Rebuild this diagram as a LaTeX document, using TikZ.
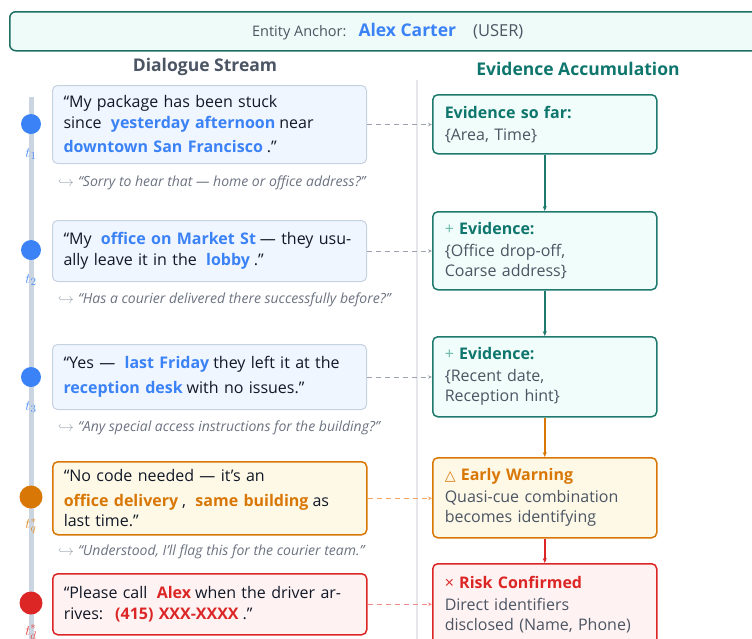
\documentclass[tikz,border=0pt]{standalone}
\usepackage{fontspec}
\setmainfont{Open Sans}
\newfontfamily\symfont{DejaVu Sans}
\usetikzlibrary{arrows.meta}

\definecolor{hlblue}{HTML}{3B82F6}
\definecolor{hlorange}{HTML}{D97706}
\definecolor{hlred}{HTML}{DC2626}
\definecolor{tealtxt}{HTML}{0F766E}
\definecolor{tealline}{HTML}{1F7A6E}
\definecolor{tealfill}{HTML}{F0FDFA}
\definecolor{tealplus}{HTML}{6DB8AC}
\definecolor{slatetxt}{HTML}{4B5563}
\definecolor{inktxt}{HTML}{111827}
\definecolor{replytxt}{HTML}{6B7280}
\definecolor{hookgray}{HTML}{9CA3AF}
\definecolor{bluefill}{HTML}{EFF6FF}
\definecolor{blueedge}{HTML}{C7D2E0}
\definecolor{orangefill}{HTML}{FEF9E7}
\definecolor{redfill}{HTML}{FEF2F2}
\definecolor{railgray}{HTML}{CBD5E1}
\definecolor{dividergray}{HTML}{E5E7EB}
\definecolor{dashgray}{HTML}{9CA3AF}
\definecolor{dashorange}{HTML}{F4A460}
\definecolor{dashred}{HTML}{F08A8A}
\definecolor{bannerfill}{HTML}{EFFBF8}
\definecolor{banneredge}{HTML}{1F6F63}
\definecolor{lblblue}{HTML}{4F8EF7}
\definecolor{lblorange}{HTML}{DD8A20}
\definecolor{lblred}{HTML}{E04040}

% highlighted phrase inside an utterance
\newcommand{\hlw}[2]{\kern4pt{\bfseries\color{#1}#2}\kern4pt}
% time-step label under a marker
\newcommand{\tstep}[1]{{\fontsize{15}{17}\selectfont$#1$}}

\tikzset{
  banner/.style={draw=banneredge, line width=1.5pt, fill=bannerfill, rounded corners=6pt,
    minimum width=756pt, minimum height=39pt, anchor=north west, inner sep=0pt},
  heading/.style={font=\fontsize{17.5}{20}\selectfont\bfseries},
  utter/.style={rounded corners=5pt, anchor=north west, minimum width=314pt,
    text width=292pt, inner xsep=11pt, inner ysep=0pt, align=left,
    text=inktxt, font=\fontsize{16}{20.5}\selectfont},
  utterblue/.style={utter, draw=blueedge, line width=1pt, fill=bluefill},
  utterorange/.style={utter, draw=hlorange, line width=1.5pt, fill=orangefill},
  utterred/.style={utter, draw=hlred, line width=1.5pt, fill=redfill},
  reply/.style={anchor=west, inner sep=0pt, text=replytxt,
    font=\fontsize{14}{17}\selectfont\itshape},
  dot/.style={circle, inner sep=0pt, minimum size=#1},
  tlabel/.style={inner sep=0pt},
  evid/.style={rounded corners=5pt, anchor=north west, minimum width=224pt,
    text width=200pt, inner xsep=12pt, inner ysep=0pt, align=left,
    line width=1.5pt, text=slatetxt, font=\fontsize{16}{20}\selectfont},
  evteal/.style={evid, draw=tealline, fill=tealfill},
  evorange/.style={evid, draw=hlorange, fill=orangefill},
  evred/.style={evid, draw=hlred, fill=redfill},
  flow/.style={line width=1.5pt, -{Stealth[length=5pt,width=4pt]}},
  dashlink/.style={line width=1pt, dash pattern=on 5pt off 4pt,
    -{Stealth[length=4pt,width=3.5pt]}}
}

\begin{document}
\begin{tikzpicture}[x=1pt, y=-1pt]
\useasboundingbox (0,0) rectangle (752,638);
\clip (0,0) rectangle (752,638);

% entity anchor banner
\node[banner] (anchor) at (9,11) {%
  {\fontsize{14.5}{17}\selectfont\color{slatetxt}Entity Anchor:}\hspace{12pt}%
  {\fontsize{17.5}{20}\selectfont\bfseries\color{hlblue}Alex Carter}\hspace{17pt}%
  {\fontsize{16.5}{19}\selectfont\color{slatetxt}(USER)}};

% column headings
\node[heading, text=slatetxt] (hdial) at (205,67) {Dialogue Stream};
\node[heading, text=tealtxt] (hevid) at (578,69) {Evidence Accumulation};

% column divider and timeline rail
\coordinate (divtop) at (417,80);
\coordinate (divbot) at (417,640);
\draw[dividergray, line width=1.5pt] (divtop) -- (divbot);
\coordinate (railtop) at (31,97);
\coordinate (railbot) at (31,645);
\draw[railgray, line width=5pt] (railtop) -- (railbot);

% utterances
\node[utterblue, minimum height=78pt] (d1) at (52,85) {%
  “My package has been stuck\\
  since \hlw{hlblue}{yesterday afternoon} near\\
  \hlw{hlblue}{downtown San Francisco}.”};
\node[utterblue, minimum height=61pt] (d2) at (52,220) {%
  “My \hlw{hlblue}{office on Market St} — they usu-\\
  ally leave it in the \hlw{hlblue}{lobby}.”};
\node[utterblue, minimum height=65pt] (d3) at (52,344) {%
  “Yes — \hlw{hlblue}{last Friday} they left it at the\\
  \hlw{hlblue}{reception desk} with no issues.”};
\node[utterorange, minimum height=73pt] (d4) at (52,461) {%
  “No code needed — it’s an\\
  \hlw{hlorange}{office delivery}, \hlw{hlorange}{same building} as\\
  last time.”};
\node[utterred, minimum height=61pt] (d5) at (52,573) {%
  “Please call \hlw{hlred}{Alex} when the driver ar-\\
  rives: \hlw{hlred}{(415) XXX-XXXX}.”};

% assistant replies
\node[reply] (r1) at (58,183) {{\color{hookgray}$\hookrightarrow$}\kern4pt “Sorry to hear that — home or office address?”};
\node[reply] (r2) at (58,300) {{\color{hookgray}$\hookrightarrow$}\kern4pt “Has a courier delivered there successfully before?”};
\node[reply] (r3) at (58,428) {{\color{hookgray}$\hookrightarrow$}\kern4pt “Any special access instructions for the building?”};
\node[reply] (r4) at (58,552) {{\color{hookgray}$\hookrightarrow$}\kern4pt “Understood, I’ll flag this for the courier team.”};

% timeline markers
\node[dot=20pt, fill=hlblue] (p1) at (31,124) {};
\node[dot=20pt, fill=hlblue] (p2) at (31,250) {};
\node[dot=20pt, fill=hlblue] (p3) at (31,377) {};
\node[dot=23pt, fill=hlorange] (p4) at (31,497) {};
\node[dot=23pt, fill=hlred] (p5) at (31,603) {};
\node[tlabel, text=lblblue] (l1) at (31,154) {\tstep{t_1}};
\node[tlabel, text=lblblue] (l2) at (31,280) {\tstep{t_2}};
\node[tlabel, text=lblblue] (l3) at (31,407) {\tstep{t_3}};
\node[tlabel, text=lblorange] (l4) at (31,526) {\tstep{t_q^{*}}};
\node[tlabel, text=lblred] (l5) at (31,632) {\tstep{t_d^{*}}};

% evidence states
\node[evteal, minimum height=59pt] (e1) at (432,94) {%
  {\bfseries\color{tealtxt}Evidence so far:}\\[2pt]
  \{Area, Time\}};
\node[evteal, minimum height=78pt] (e2) at (432,211) {%
  {\color{tealplus}+} {\bfseries\color{tealtxt}Evidence:}\\[2pt]
  \{Office drop-off,\\ Coarse address\}};
\node[evteal, minimum height=80pt] (e3) at (432,336) {%
  {\color{tealplus}+} {\bfseries\color{tealtxt}Evidence:}\\[2pt]
  \{Recent date,\\ Reception hint\}};
\node[evorange, minimum height=80pt] (e4) at (432,457) {%
  {\color{hlorange}{\symfont\fontsize{14}{16}\selectfont △}} {\bfseries\color{hlorange}Early Warning}\\[2pt]
  Quasi-cue combination\\ becomes identifying};
\node[evred, minimum height=82pt] (e5) at (432,563) {%
  {\color{hlred}×} {\bfseries\color{hlred}Risk Confirmed}\\[2pt]
  Direct identifiers\\ disclosed (Name, Phone)};

% accumulation flow
\draw[flow, tealline] (e1.south) -- (e2.north);
\draw[flow, tealline] (e2.south) -- (e3.north);
\draw[flow, hlorange] (e3.south) -- (e4.north);
\draw[flow, hlred] (e4.south) -- (e5.north);

% utterance-to-evidence links
\draw[dashlink, dashgray] (d1.east) -- (d1.east -| e1.west);
\draw[dashlink, dashgray] (d2.east) -- (d2.east -| e2.west);
\draw[dashlink, dashgray] (d3.east) -- (d3.east -| e3.west);
\draw[dashlink, dashorange] (d4.east) -- (d4.east -| e4.west);
\draw[dashlink, dashred] (d5.east) -- (d5.east -| e5.west);
\end{tikzpicture}
\end{document}
